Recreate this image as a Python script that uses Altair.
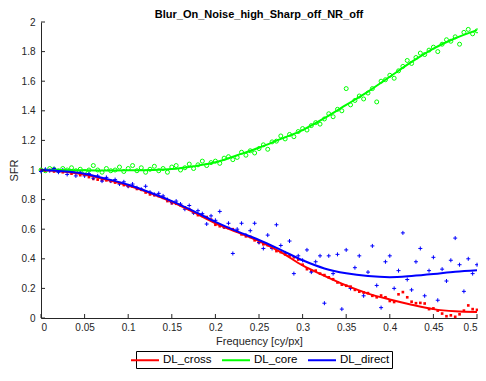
import altair as alt
import pandas as pd

freq = [0.000, 0.005, 0.010, 0.015, 0.020, 0.025, 0.030, 0.035, 0.040, 0.045,
        0.050, 0.055, 0.060, 0.065, 0.070, 0.075, 0.080, 0.085, 0.090, 0.095,
        0.100, 0.105, 0.110, 0.115, 0.120, 0.125, 0.130, 0.135, 0.140, 0.145,
        0.150, 0.155, 0.160, 0.165, 0.170, 0.175, 0.180, 0.185, 0.190, 0.195,
        0.200, 0.205, 0.210, 0.215, 0.220, 0.225, 0.230, 0.235, 0.240, 0.245,
        0.250, 0.255, 0.260, 0.265, 0.270, 0.275, 0.280, 0.285, 0.290, 0.295,
        0.300, 0.305, 0.310, 0.315, 0.320, 0.325, 0.330, 0.335, 0.340, 0.345,
        0.350, 0.355, 0.360, 0.365, 0.370, 0.375, 0.380, 0.385, 0.390, 0.395,
        0.400, 0.405, 0.410, 0.415, 0.420, 0.425, 0.430, 0.435, 0.440, 0.445,
        0.450, 0.455, 0.460, 0.465, 0.470, 0.475, 0.480, 0.485, 0.490, 0.495,
        0.500]

cross_pts = [1.002, 0.995, 1.000, 0.990, 0.994, 0.985, 0.988, 0.975, 0.980, 0.965,
             0.968, 0.952, 0.940, 0.935, 0.932, 0.930, 0.924, 0.915, 0.912, 0.898,
             0.890, 0.888, 0.872, 0.868, 0.848, 0.835, 0.830, 0.824, 0.812, 0.790,
             0.775, 0.772, 0.762, 0.748, 0.735, 0.712, 0.695, 0.690, 0.682, 0.665,
             0.630, 0.620, 0.612, 0.608, 0.600, 0.585, 0.565, 0.552, 0.548, 0.525,
             0.510, 0.498, 0.492, 0.475, 0.452, 0.445, 0.430, 0.420, 0.410, 0.395,
             0.360, 0.330, 0.318, 0.320, 0.300, 0.290, 0.275, 0.262, 0.240, 0.225,
             0.218, 0.212, 0.190, 0.178, 0.172, 0.168, 0.150, 0.140, 0.152, 0.140,
             0.115, 0.108, 0.160, 0.175, 0.140, 0.110, 0.100, 0.102, 0.098, 0.060,
             0.065, 0.050, 0.030, 0.012, 0.018, 0.008, 0.025, 0.050, 0.085, 0.060,
             0.055]

core_pts = [1.000, 0.995, 1.010, 1.005, 0.995, 1.010, 1.000, 1.015, 0.995, 1.005,
            0.990, 1.000, 1.030, 1.000, 0.985, 1.010, 0.995, 1.000, 1.020, 0.990,
            1.010, 1.030, 0.995, 1.015, 0.985, 1.005, 1.025, 0.995, 1.010, 0.985,
            1.020, 1.030, 1.000, 1.015, 1.040, 1.010, 1.035, 1.060, 1.030, 1.050,
            1.060, 1.045, 1.080, 1.090, 1.070, 1.085, 1.120, 1.100, 1.130, 1.115,
            1.145, 1.170, 1.140, 1.190, 1.195, 1.230, 1.210, 1.240, 1.225, 1.260,
            1.280, 1.270, 1.300, 1.320, 1.310, 1.345, 1.380, 1.360, 1.410, 1.400,
            1.550, 1.440, 1.470, 1.500, 1.480, 1.520, 1.550, 1.460, 1.600, 1.610,
            1.640, 1.620, 1.670, 1.700, 1.740, 1.720, 1.760, 1.790, 1.780, 1.810,
            1.830, 1.800, 1.850, 1.880, 1.870, 1.900, 1.850, 1.930, 1.950, 1.920,
            1.940]

direct_pts = [0.990, 1.005, 0.995, 1.010, 0.985, 1.000, 0.970, 0.990, 0.960, 0.985,
              0.960, 0.975, 0.945, 0.960, 0.925, 0.950, 0.925, 0.935, 0.905, 0.920,
              0.890, 0.905, 0.880, 0.870, 0.890, 0.850, 0.835, 0.842, 0.825, 0.800,
              0.780, 0.790, 0.770, 0.735, 0.760, 0.710, 0.725, 0.705, 0.635, 0.690,
              0.660, 0.720, 0.615, 0.640, 0.436, 0.600, 0.640, 0.560, 0.590, 0.640,
              0.510, 0.470, 0.560, 0.470, 0.630, 0.490, 0.440, 0.520, 0.300, 0.420,
              0.390, 0.460, 0.310, 0.380, 0.420, 0.100, 0.420, 0.300, 0.430, 0.060,
              0.460, 0.200, 0.340, 0.420, 0.150, 0.310, 0.487, 0.220, 0.070, 0.380,
              0.420, 0.200, 0.320, 0.575, 0.260, 0.190, 0.380, 0.470, 0.150, 0.320,
              0.410, 0.120, 0.330, 0.250, 0.390, 0.540, 0.360, 0.180, 0.400, 0.300,
              0.360]

fit_freq = [0.000, 0.025, 0.050, 0.075, 0.100, 0.125, 0.150, 0.175, 0.200, 0.225,
            0.250, 0.275, 0.300, 0.325, 0.350, 0.375, 0.400, 0.425, 0.450, 0.475,
            0.500]
cross_fit = [1.000, 0.990, 0.970, 0.935, 0.895, 0.845, 0.785, 0.715, 0.640, 0.580,
             0.520, 0.445, 0.355, 0.285, 0.220, 0.165, 0.125, 0.090, 0.060, 0.045,
             0.040]
core_fit = [1.000, 1.000, 0.998, 0.997, 0.998, 1.000, 1.006, 1.025, 1.052, 1.100,
            1.150, 1.210, 1.270, 1.350, 1.440, 1.530, 1.630, 1.730, 1.820, 1.890,
            1.945]
direct_fit = [1.000, 0.992, 0.975, 0.940, 0.900, 0.848, 0.790, 0.722, 0.650, 0.585,
              0.527, 0.460, 0.390, 0.335, 0.302, 0.283, 0.276, 0.284, 0.297, 0.313,
              0.323]

series_names = ["DL_cross", "DL_core", "DL_direct"]
series_colors = ["#ff0000", "#00ff00", "#0000ff"]

x_ticks = [0, 0.05, 0.1, 0.15, 0.2, 0.25, 0.3, 0.35, 0.4, 0.45, 0.5]
y_ticks = [0, 0.2, 0.4, 0.6, 0.8, 1.0, 1.2, 1.4, 1.6, 1.8, 2.0]

FONT = "Liberation Sans"
AX = "#262626"
W, H = 436, 296

pts = pd.DataFrame({"f": freq, "cross": cross_pts, "core": core_pts, "direct": direct_pts})
fits = pd.DataFrame({
    "f": fit_freq * 3,
    "v": cross_fit + core_fit + direct_fit,
    "series": [series_names[0]] * len(fit_freq) + [series_names[1]] * len(fit_freq)
              + [series_names[2]] * len(fit_freq),
})

xsc = alt.Scale(domain=[0, 0.5], nice=False)
ysc = alt.Scale(domain=[0, 2], nice=False)
xax = alt.Axis(values=x_ticks, format="~g", title="Frequency [cy/px]", grid=False, ticks=False,
               labelPadding=4, titlePadding=3, labelFlush=True)
yax = alt.Axis(values=y_ticks, format="~g", title="SFR", grid=False, ticks=False,
               labelPadding=6, titlePadding=2)

base = alt.Chart(pts)

red = base.mark_point(shape="square", filled=True, size=7, opacity=1, color=series_colors[0]).encode(
    x=alt.X("f:Q", scale=xsc, axis=xax), y=alt.Y("cross:Q", scale=ysc, axis=yax))
green = base.mark_point(shape="circle", filled=False, size=16, strokeWidth=1, opacity=1,
                        color=series_colors[1]).encode(
    x=alt.X("f:Q", scale=xsc, axis=xax), y=alt.Y("core:Q", scale=ysc, axis=yax))
blue = base.mark_point(shape="M-1,0H1M0,-1V1", filled=False, size=16, strokeWidth=1, opacity=1,
                       color=series_colors[2]).encode(
    x=alt.X("f:Q", scale=xsc, axis=xax), y=alt.Y("direct:Q", scale=ysc, axis=yax))

lines = alt.Chart(fits).mark_line(strokeWidth=2, interpolate="monotone").encode(
    x=alt.X("f:Q", scale=xsc, axis=xax),
    y=alt.Y("v:Q", scale=ysc, axis=yax),
    color=alt.Color("series:N", scale=alt.Scale(domain=series_names, range=series_colors),
                    sort=series_names, legend=alt.Legend(title=None)),
)

xt = alt.Chart(pd.DataFrame({"t": x_ticks})).mark_rule(color=AX, strokeWidth=1).encode(
    x=alt.X("t:Q", scale=xsc, axis=xax), y=alt.value(H), y2=alt.value(H - 4))
yt = alt.Chart(pd.DataFrame({"t": y_ticks})).mark_rule(color=AX, strokeWidth=1).encode(
    y=alt.Y("t:Q", scale=ysc, axis=yax), x=alt.value(0), x2=alt.value(4))

chart = alt.layer(red, green, blue, lines, xt, yt).properties(
    width=W, height=H,
    title=alt.TitleParams("Blur_On_Noise_high_Sharp_off_NR_off", font=FONT, fontSize=11,
                          fontWeight="bold", color="#000000", offset=-3),
    autosize=alt.AutoSizeParams(type="none"),
    padding={"left": 33, "top": 14, "right": 1, "bottom": 51},
).configure_view(stroke=None).configure_axis(
    labelFont=FONT, labelFontSize=10, labelColor=AX, titleFont=FONT, titleFontSize=11,
    titleColor=AX, titleFontWeight="normal", domainColor=AX, domainWidth=1,
).configure_legend(
    orient="none", legendX=95, legendY=H + 33, direction="horizontal",
    strokeColor="#000000", fillColor="#ffffff", padding=2,
    symbolType="M-2.33,0H2.33", symbolSize=144, symbolStrokeWidth=2, labelOffset=11,
    labelFont=FONT, labelFontSize=11.5, labelColor="#000000", columnPadding=6,
)

chart.save("out.html", embed_options={"renderer": "svg", "actions": False})
